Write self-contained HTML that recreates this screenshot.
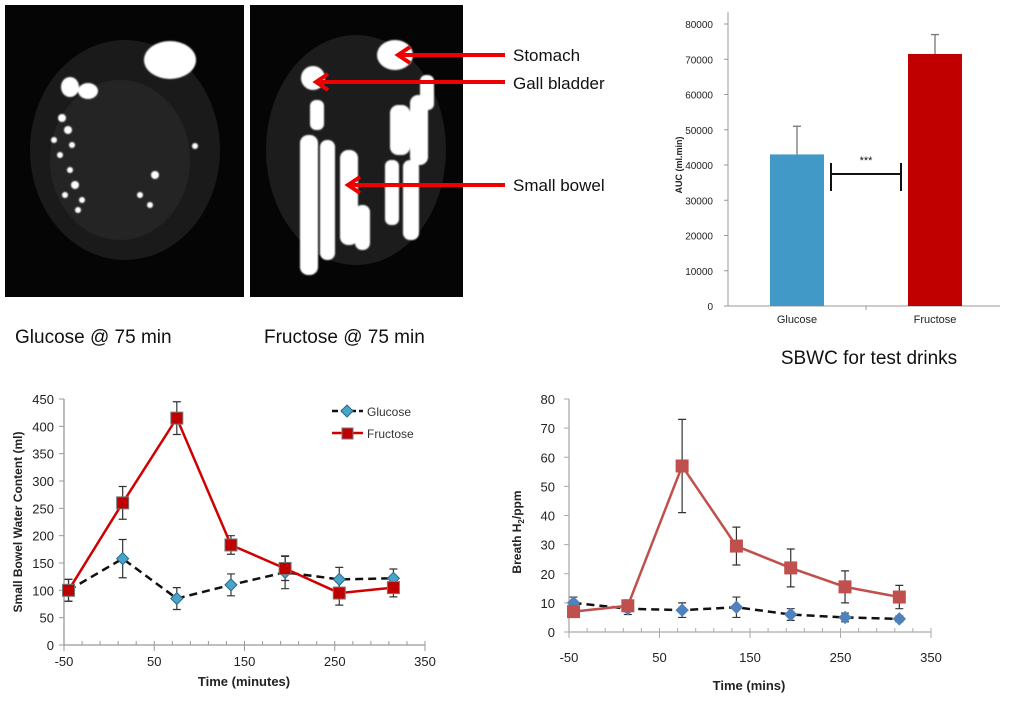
<!DOCTYPE html>
<html><head><meta charset="utf-8"><style>
body{margin:0;background:#fff;width:1024px;height:701px;overflow:hidden;font-family:"Liberation Sans",Arial,sans-serif}
svg{position:absolute;left:0;top:0}
</style></head><body>
<svg id="fig" width="1024" height="701" xmlns="http://www.w3.org/2000/svg">
<defs>
<filter id="blur" x="-20%" y="-20%" width="140%" height="140%"><feGaussianBlur stdDeviation="0.8"/></filter>
</defs>
<g>
<rect x="5" y="5" width="239" height="292" fill="#050505"/>
<ellipse cx="125" cy="150" rx="95" ry="110" fill="#1a1a1a"/>
<ellipse cx="120" cy="160" rx="70" ry="80" fill="#242424"/>
<g fill="#fff" filter="url(#blur)">
<ellipse cx="170" cy="60" rx="26" ry="19"/>
<ellipse cx="70" cy="87" rx="9" ry="10"/><ellipse cx="88" cy="91" rx="10" ry="8"/>
<circle cx="62" cy="118" r="4"/><circle cx="68" cy="130" r="4"/><circle cx="54" cy="140" r="3"/><circle cx="72" cy="145" r="3"/>
<circle cx="60" cy="155" r="3"/><circle cx="70" cy="170" r="3"/><circle cx="75" cy="185" r="4"/><circle cx="65" cy="195" r="3"/>
<circle cx="82" cy="200" r="3"/><circle cx="78" cy="210" r="3"/><circle cx="155" cy="175" r="4"/><circle cx="140" cy="195" r="3"/><circle cx="150" cy="205" r="3"/><circle cx="195" cy="146" r="3"/>
</g>
</g>
<g>
<rect x="250" y="5" width="213" height="292" fill="#050505"/>
<ellipse cx="356" cy="150" rx="90" ry="115" fill="#1c1c1c"/>
<g fill="#fff" filter="url(#blur)">
<ellipse cx="395" cy="55" rx="18" ry="15"/>
<ellipse cx="313" cy="78" rx="12" ry="12"/>
<rect x="300" y="135" width="18" height="140" rx="8"/><rect x="320" y="140" width="15" height="120" rx="7"/>
<rect x="340" y="150" width="18" height="95" rx="8"/><rect x="355" y="205" width="15" height="45" rx="7"/>
<rect x="385" y="160" width="14" height="65" rx="6"/><rect x="403" y="160" width="16" height="80" rx="7"/>
<rect x="390" y="105" width="20" height="50" rx="8"/><rect x="410" y="95" width="18" height="70" rx="8"/>
<rect x="420" y="75" width="14" height="35" rx="6"/><rect x="310" y="100" width="14" height="30" rx="6"/>
</g>
</g>
<g stroke="#e00" stroke-width="4" fill="none">
<line x1="505" y1="55" x2="398" y2="55"/><polyline points="410,47 398,55 410,63"/>
<line x1="505" y1="82" x2="316" y2="82"/><polyline points="328,74 316,82 328,90"/>
<line x1="505" y1="185" x2="348" y2="185"/><polyline points="360,177 348,185 360,193"/>
</g>
<g font-size="17" fill="#111">
<text x="513" y="61">Stomach</text>
<text x="513" y="89">Gall bladder</text>
<text x="513" y="191">Small bowel</text>
</g>
<text x="15" y="343" font-size="19" fill="#111">Glucose @ 75 min</text>
<text x="264" y="343" font-size="19" fill="#111">Fructose @ 75 min</text>
<text x="869" y="364" font-size="19" text-anchor="middle" fill="#111">SBWC for test drinks</text>
<g id="bar"></g><g id="c1"></g><g id="c2"></g>
</svg>
<script>
const NS="http://www.w3.org/2000/svg";
function mk(p,t,a,txt){const e=document.createElementNS(NS,t);for(const k in a)e.setAttribute(k,a[k]);if(txt!==undefined)e.textContent=txt;p.appendChild(e);return e;}

// ---- bar chart data
const barCats=["Glucose","Fructose"];
const barVals=[43000,71500];
const barErr=[8000,5500];
const barColors=["#4199c8","#c00000"];
const barTicks=[0,10000,20000,30000,40000,50000,60000,70000,80000];

// ---- line chart 1 data
const times=[-45,15,75,135,195,255,315];
const sbwcGlucose=[100,158,85,110,133,120,122];
const sbwcGlucoseErr=[20,35,20,20,30,22,17];
const sbwcFructose=[100,260,415,183,140,95,105];
const sbwcFructoseErr=[20,30,30,17,22,22,17];
const sbwcYTicks=[0,50,100,150,200,250,300,350,400,450];
const xTicks=[-50,50,150,250,350];

// ---- line chart 2 data
const h2Glucose=[10,8,7.5,8.5,6,5,4.5];
const h2GlucoseErr=[2,2,2.5,3.5,2,1.5,1];
const h2Fructose=[7,9,57,29.5,22,15.5,12];
const h2FructoseErr=[0,2,16,6.5,6.5,5.5,4];
const h2YTicks=[0,10,20,30,40,50,60,70,80];

// ---- bar chart
(function(){
 const g=document.getElementById('bar');
 const y=v=>306-(v/80000)*282;
 const cx=[797,935];
 mk(g,'line',{x1:728,y1:12,x2:728,y2:306,stroke:'#999','stroke-width':1});
 mk(g,'line',{x1:728,y1:306,x2:1000,y2:306,stroke:'#999','stroke-width':1});
 mk(g,'line',{x1:866,y1:306,x2:866,y2:310,stroke:'#999'});
 barTicks.forEach(t=>{
  mk(g,'line',{x1:724,y1:y(t),x2:728,y2:y(t),stroke:'#999'});
  const e=mk(g,'text',{x:713,y:y(t)+4,'font-size':10,'text-anchor':'end',fill:'#222'},t);
  
 });
 barVals.forEach((v,i)=>{
  const ey=y(v+barErr[i]);
  mk(g,'line',{x1:cx[i],y1:ey,x2:cx[i],y2:y(v),stroke:'#777','stroke-width':1.3});
  mk(g,'line',{x1:cx[i]-4,y1:ey,x2:cx[i]+4,y2:ey,stroke:'#777','stroke-width':1.3});
  const r=mk(g,'rect',{x:cx[i]-27,y:y(v),width:54,height:306-y(v),fill:barColors[i]});
  
  const t=mk(g,'text',{x:cx[i],y:323,'font-size':11,'text-anchor':'middle',fill:'#222'},barCats[i]);
  
 });
 const yt=mk(g,'text',{x:0,y:0,'font-size':9,'font-weight':'bold','text-anchor':'middle',fill:'#222',transform:'translate(682,165) rotate(-90)'},'AUC (ml.min)');
 
 const sig=mk(g,'g',{stroke:'#111','stroke-width':2});
 
 mk(sig,'line',{x1:831,y1:174,x2:901,y2:174});mk(sig,'line',{x1:831,y1:163,x2:831,y2:191});mk(sig,'line',{x1:901,y1:163,x2:901,y2:191});
 mk(g,'text',{x:866,y:164,'font-size':11,'text-anchor':'middle',fill:'#111'},'***');
})();

function lineChart(id,o){
 const g=document.getElementById(id);
 const x=v=>o.x0+(v+50)/400*(o.x1-o.x0);
 const y=v=>o.y0-v/o.ymax*(o.y0-o.ytop);
 mk(g,'line',{x1:x(-50),y1:o.ytop,x2:x(-50),y2:o.y0,stroke:o.axc,'stroke-width':1.3});
 mk(g,'line',{x1:x(-50),y1:o.y0,x2:x(350),y2:o.y0,stroke:o.axc,'stroke-width':1.3});
 o.yTicks.forEach(t=>{
  mk(g,'line',{x1:x(-50)-5,y1:y(t),x2:x(-50),y2:y(t),stroke:o.axc});
  const e=mk(g,'text',{x:x(-50)-o.lblOff,y:y(t)+5,'font-size':13,'text-anchor':'end',fill:'#222'},t);
  
 });
 for(let v=-50;v<=350;v+=20){mk(g,'line',{x1:x(v),y1:o.y0,x2:x(v),y2:o.y0-4,stroke:o.axc});}
 xTicks.forEach(t=>{
  mk(g,'line',{x1:x(t),y1:o.y0,x2:x(t),y2:o.y0+6,stroke:o.axc});
  const e=mk(g,'text',{x:x(t),y:o.y0+o.xlOff,'font-size':13,'text-anchor':'middle',fill:'#222'},t);
  
 });
 o.series.forEach(s=>{
  s.err.forEach((e,i)=>{ if(!e)return;
   const cx=x(times[i]),a=y(s.vals[i]+e),b=y(s.vals[i]-e);
   mk(g,'path',{d:`M${cx} ${a}V${b}M${cx-4} ${a}H${cx+4}M${cx-4} ${b}H${cx+4}`,stroke:'#333','stroke-width':1.2,fill:'none'});
  });
 });
 o.series.forEach(s=>{
  const p=mk(g,'polyline',{points:times.map((t,i)=>x(t)+','+y(s.vals[i])).join(' '),fill:'none',stroke:s.line,'stroke-width':2.5,'stroke-dasharray':s.dash||''});
  
  times.forEach((t,i)=>{
   const cx=x(t),cy=y(s.vals[i]);let m;
   if(s.marker==='sq') m=mk(g,'rect',{x:cx-6,y:cy-6,width:12,height:12,fill:s.fill,stroke:s.mstroke,'stroke-width':1});
   else m=mk(g,'path',{d:`M${cx} ${cy-6}L${cx+6} ${cy}L${cx} ${cy+6}L${cx-6} ${cy}Z`,fill:s.fill,stroke:s.mstroke,'stroke-width':1});
   
  });
 });
 const xt=mk(g,'text',{x:o.xtX,y:o.xtY,'font-size':13,'font-weight':'bold','text-anchor':'middle',fill:'#222'},o.xTitle);
 
 const ytt=mk(g,'text',{x:0,y:0,'font-size':12,'font-weight':'bold','text-anchor':'middle',fill:'#222',transform:`translate(${o.ytX},${o.ytY}) rotate(-90)`});
 ytt.innerHTML=o.yTitle;
 
 return {g,x,y};
}

const c1=lineChart('c1',{x0:64,x1:425,y0:645,ytop:399,ymax:450,yTicks:sbwcYTicks,axc:'#999',lblOff:10,xlOff:21,
 xTitle:'Time (minutes)',xtX:244,xtY:686,yTitle:'Small Bowel Water Content  (ml)',ytX:22,ytY:522,
 series:[
  {name:'glucose',vals:sbwcGlucose,err:sbwcGlucoseErr,line:'#111',dash:'8,5',marker:'di',fill:'#4aa3c8',mstroke:'#2a6a8a'},
  {name:'fructose',vals:sbwcFructose,err:sbwcFructoseErr,line:'#d00000',marker:'sq',fill:'#c00000',mstroke:'#777'}]});
(function(){const g=document.getElementById('c1');
 const l1=mk(g,'g',{});
 mk(l1,'line',{x1:332,y1:411,x2:363,y2:411,stroke:'#111','stroke-width':2.5,'stroke-dasharray':'6,3'});
 mk(l1,'path',{d:'M347 405L353 411L347 417L341 411Z',fill:'#4aa3c8',stroke:'#2a6a8a'});
 mk(l1,'text',{x:367,y:416,'font-size':12,fill:'#333'},'Glucose');
 const l2=mk(g,'g',{});
 mk(l2,'line',{x1:332,y1:433,x2:363,y2:433,stroke:'#d00000','stroke-width':2.5});
 mk(l2,'rect',{x:342,y:428,width:11,height:11,fill:'#c00000',stroke:'#777'});
 mk(l2,'text',{x:367,y:438,'font-size':12,fill:'#333'},'Fructose');
})();

lineChart('c2',{x0:569,x1:931,y0:632,ytop:399,ymax:80,yTicks:h2YTicks,axc:'#aaa',lblOff:14,xlOff:30,
 xTitle:'Time (mins)',xtX:749,xtY:690,yTitle:'Breath H<tspan font-size="8" dy="3">2</tspan><tspan dy="-3">/ppm</tspan>',ytX:521,ytY:532,
 series:[
  {name:'h2-glucose',vals:h2Glucose,err:h2GlucoseErr,line:'#111',dash:'8,5',marker:'di',fill:'#4f81bd',mstroke:'#4f81bd'},
  {name:'h2-fructose',vals:h2Fructose,err:h2FructoseErr,line:'#c0504d',marker:'sq',fill:'#c0504d',mstroke:'#c0504d'}]});
</script>
</body></html>
